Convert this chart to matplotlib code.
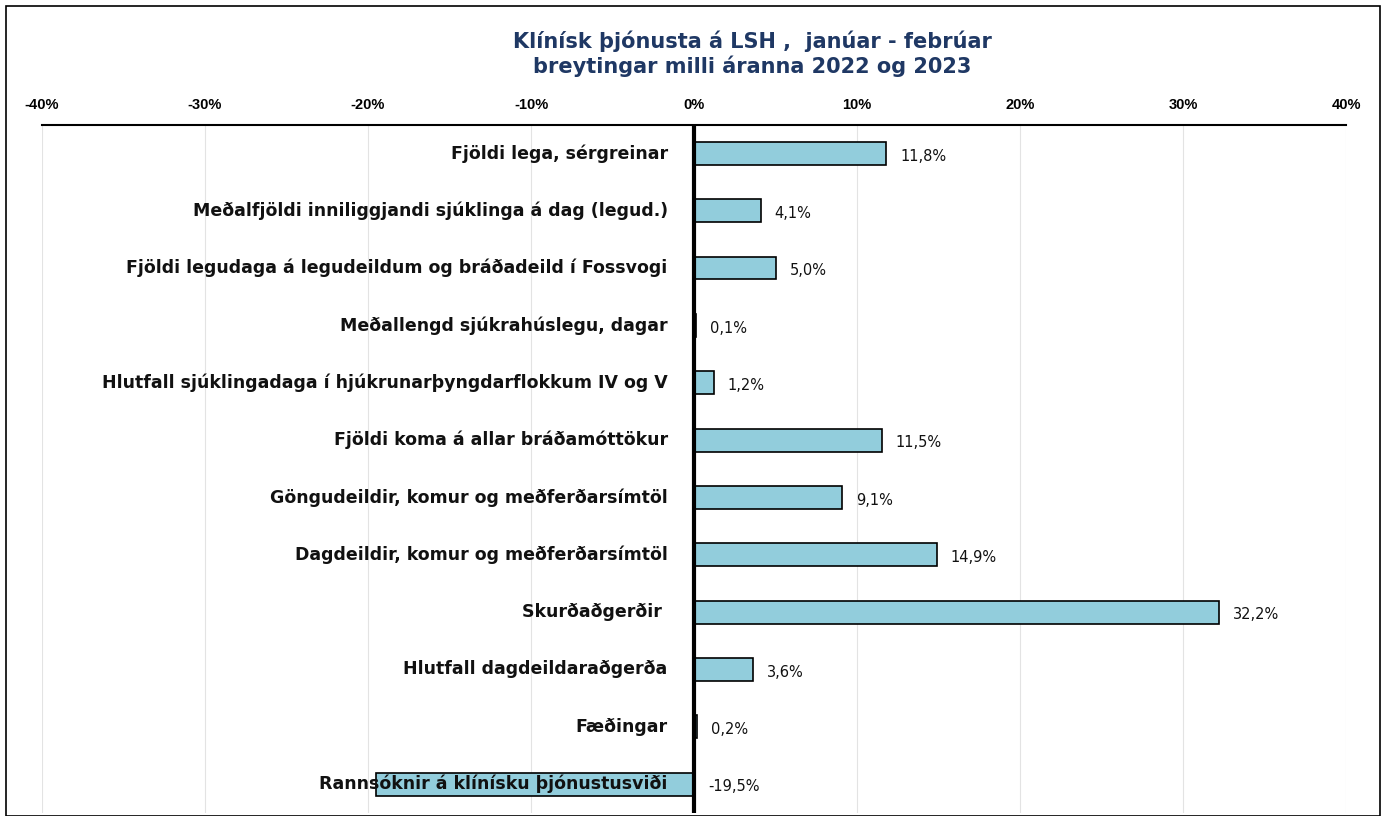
import matplotlib
matplotlib.use("Agg")
import matplotlib.pyplot as plt
from matplotlib.ticker import FuncFormatter

categories = [
    "Fjöldi lega, sérgreinar",
    "Meðalfjöldi inniliggjandi sjúklinga á dag (legud.)",
    "Fjöldi legudaga á legudeildum og bráðadeild í Fossvogi",
    "Meðallengd sjúkrahúslegu, dagar",
    "Hlutfall sjúklingadaga í hjúkrunarþyngdarflokkum IV og V",
    "Fjöldi koma á allar bráðamóttökur",
    "Göngudeildir, komur og meðferðarsímtöl",
    "Dagdeildir, komur og meðferðarsímtöl",
    "Skurðaðgerðir ",
    "Hlutfall dagdeildaraðgerða",
    "Fæðingar",
    "Rannsóknir á klínísku þjónustusviði",
]
values = [11.8, 4.1, 5.0, 0.1, 1.2, 11.5, 9.1, 14.9, 32.2, 3.6, 0.2, -19.5]
value_labels = ["11,8%", "4,1%", "5,0%", "0,1%", "1,2%", "11,5%", "9,1%",
                "14,9%", "32,2%", "3,6%", "0,2%", "-19,5%"]
xticks = [-40, -30, -20, -10, 0, 10, 20, 30, 40]
title = "Klínísk þjónusta á LSH ,  janúar - febrúar\nbreytingar milli áranna 2022 og 2023"

plt.rcParams['font.family'] = ['Liberation Sans', 'DejaVu Sans']

fig = plt.figure(figsize=(13.83, 8.16), dpi=100)
ax = fig.add_axes([0.0304, 0.004, 0.9429, 0.8432])

n = len(categories)
ypos = list(range(n))
ax.barh(ypos, values, height=0.4, color="#92CDDC", edgecolor="black",
        linewidth=1.2, zorder=3)
ax.set_ylim(n - 0.5, -0.5)
ax.set_xlim(-40, 40)
ax.set_xticks(xticks)
ax.xaxis.set_major_formatter(FuncFormatter(lambda v, p: f"{int(v)}%"))
ax.xaxis.tick_top()
ax.tick_params(axis='x', length=0, pad=9, labelsize=10.5)
for lab in ax.get_xticklabels():
    lab.set_fontweight('bold')
ax.set_yticks([])
ax.grid(axis='x', color="#E3E3E3", linewidth=0.8, zorder=0)
for s in ['left', 'right', 'bottom']:
    ax.spines[s].set_visible(False)
ax.spines['top'].set_linewidth(1.5)
ax.axvline(0, color="black", linewidth=3, zorder=4)

for y, cat, v, vl in zip(ypos, categories, values, value_labels):
    ax.annotate(cat, xy=(0, y), xytext=(-19, 0), textcoords='offset points',
                ha='right', va='center', fontsize=12.5, fontweight='bold',
                family='DejaVu Sans', color='#111111', zorder=5)
    xend = max(v, 0)
    ax.annotate(vl, xy=(xend, y), xytext=(10, -2), textcoords='offset points',
                ha='left', va='center', fontsize=10.5, family='DejaVu Sans',
                color='#111111', zorder=5)

fig.text(0.544, 0.934, title, ha='center', va='center', fontsize=15,
         fontweight='bold', color="#1F3864", linespacing=1.2,
         family='DejaVu Sans')

border = plt.Rectangle((0.004, 0.0), 0.994, 0.993, transform=fig.transFigure,
                       fill=False, edgecolor="black", linewidth=1.2)
fig.add_artist(border)

fig.savefig("out.png", dpi=100)
